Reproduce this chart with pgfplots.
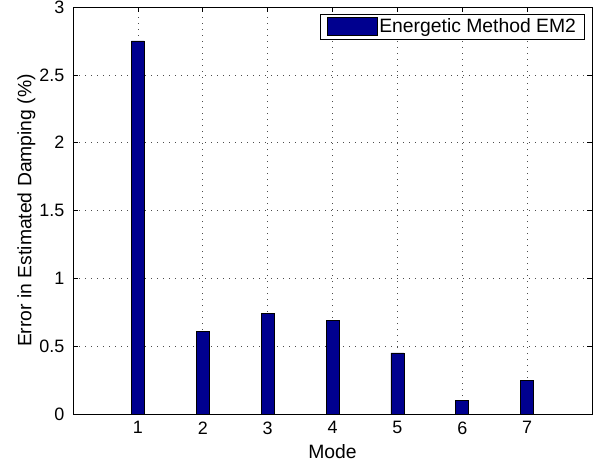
\documentclass[border=0pt]{standalone}
\usepackage{pgfplots}
\pgfplotsset{compat=1.18}
\usepackage{fontspec}
\setmainfont{Liberation Sans}

\definecolor{barblue}{RGB}{0,0,143}
\newcommand{\figfont}{\fontsize{19.4}{22}\selectfont}
\newcommand{\tickfont}{\fontsize{18}{21}\selectfont}

\begin{document}
\begin{tikzpicture}
\figfont
\begin{axis}[
    scale only axis,
    width=519bp, height=407bp,
    xmin=0, xmax=8,
    ymin=0, ymax=3,
    xtick={1,2,3,4,5,6,7},
    ytick={0,0.5,1,1.5,2,2.5,3},
    yticklabels={0,0.5,1,1.5,2,2.5,3},
    xlabel={Mode},
    ylabel={Error in Estimated Damping (\%)},
    tick align=inside,
    tick pos=both,
    major tick length=5bp,
    axis line style={line width=0.8bp},
    every tick/.style={black, line width=0.6bp},
    xmajorgrids=true, ymajorgrids=true,
    grid style={black!70, line width=0.6bp, dash pattern=on 1bp off 5bp},
    tick label style={font=\tickfont},
    label style={font=\figfont},
    xticklabel style={yshift=-1bp},
    yticklabel style={xshift=-2bp},
    xlabel style={yshift=3bp},
    ylabel style={yshift=-9bp},
    /pgf/number format/assume math mode=true,
    legend style={at={(0.985,0.983)}, anchor=north east, draw=black,
        line width=0.6bp, font=\figfont,
        inner xsep=6bp, inner ysep=2bp},
    legend cell align=left,
    legend image code/.code={\draw[#1, line width=0.5bp] (-0.1em,-0.45em) rectangle (2.5em,0.5em);},
]
\addplot[ybar, bar width=0.2, fill=barblue, draw=black, line width=0.6bp]
coordinates {(1,2.75)(2,0.61)(3,0.742)(4,0.69)(5,0.45)(6,0.10)(7,0.247)};
\addlegendentry{Energetic Method EM2}
\end{axis}
\pgfresetboundingbox
\useasboundingbox ([shift={(-73bp,-53bp)}]current axis.south west) rectangle ([shift={(11bp,7bp)}]current axis.north east);
\end{tikzpicture}
\end{document}
